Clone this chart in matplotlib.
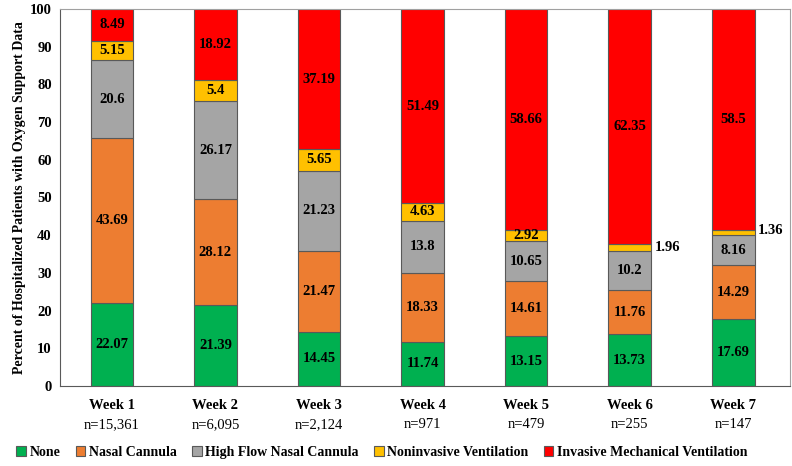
import numpy as np
import matplotlib.pyplot as plt
from matplotlib.patches import Patch

plt.rcParams['font.family'] = ['Liberation Serif', 'DejaVu Serif']

weeks = ['Week 1', 'Week 2', 'Week 3', 'Week 4', 'Week 5', 'Week 6', 'Week 7']
counts = ['n=15,361', 'n=6,095', 'n=2,124', 'n=971', 'n=479', 'n=255', 'n=147']

series = ['None', 'Nasal Cannula', 'High Flow Nasal Cannula',
          'Noninvasive Ventilation', 'Invasive Mechanical Ventilation']
none_v = [22.07, 21.39, 14.45, 11.74, 13.15, 13.73, 17.69]
nasal = [43.69, 28.12, 21.47, 18.33, 14.61, 11.76, 14.29]
hfnc = [20.6, 26.17, 21.23, 13.8, 10.65, 10.2, 8.16]
niv = [5.15, 5.4, 5.65, 4.63, 2.92, 1.96, 1.36]
imv = [8.49, 18.92, 37.19, 51.49, 58.66, 62.35, 58.5]
colors = ['#00B050', '#ED7D31', '#A5A5A5', '#FFC000', '#FF0000']

fs = 10.5

fig = plt.figure(figsize=(7.92, 4.66), dpi=100)
ax = fig.add_axes([0.0758, 0.1717, 0.922, 0.809])

x = np.arange(len(weeks))
bottom = np.zeros(len(weeks))
for vals, col, name in zip([none_v, nasal, hfnc, niv, imv], colors, series):
    vals = np.array(vals)
    ax.bar(x, vals, 0.41, bottom=bottom, color=col, edgecolor='#595959',
           linewidth=0.8, label=name)
    for i, v in enumerate(vals):
        yc = bottom[i] + v / 2
        txt = '%g' % v
        if v < 2.5:
            ax.text(i + 0.24, yc + (0.4 if i == 6 else 0), txt, ha='left', va='center',
                    fontsize=fs, fontweight='bold')
        else:
            ax.text(i, yc, txt, ha='center', va='center', fontsize=fs,
                    fontweight='bold')
    bottom += vals

ax.set_xlim(-0.5, 6.55)
ax.set_ylim(0, 100)
ax.set_yticks(range(0, 101, 10))
ax.set_xticks(x)
ax.set_xticklabels([''] * len(weeks))
ax.tick_params(axis='both', length=0, labelsize=fs, pad=6)
for lab in ax.get_yticklabels():
    lab.set_fontweight('bold')
for i in x:
    ax.text(i, -3.4, weeks[i], ha='center', va='top', fontsize=fs, fontweight='bold')
    ax.text(i, -8.6, counts[i], ha='center', va='top', fontsize=fs)
for s in ax.spines.values():
    s.set_color('#A0A0A0')
    s.set_linewidth(0.8)
ax.spines['left'].set_color('#595959')
ax.spines['bottom'].set_color('#595959')

ax.set_ylabel('Percent of Hospitalized Patients with Oxygen Support Data',
              fontsize=10, fontweight='bold', labelpad=3)

handles = [Patch(facecolor=c, edgecolor='#595959', linewidth=0.8) for c in colors]
fig.legend(handles, series, loc='center', bbox_to_anchor=(0.482, 0.03), ncol=5,
           frameon=False, prop={'weight': 'bold', 'size': 10},
           handlelength=0.7, handleheight=0.7, handletextpad=0.25, columnspacing=1.1)

fig.savefig('out.png', dpi=100)
